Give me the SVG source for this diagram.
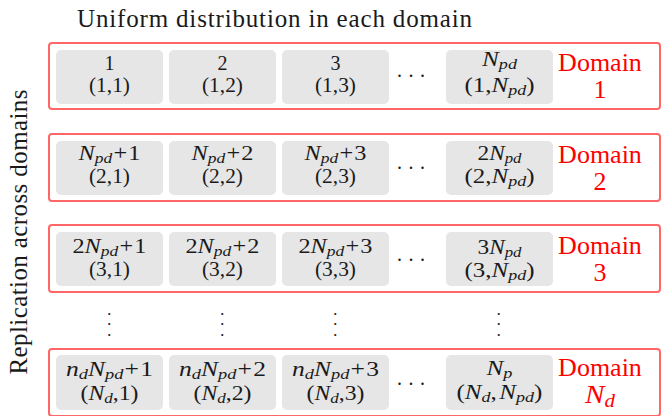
<svg xmlns="http://www.w3.org/2000/svg" width="668" height="416" viewBox="0 0 668 416">
  <style>
    text { font-family: "Liberation Serif", "Times New Roman", serif; }
    .box { fill: #ffffff; stroke: #ff6666; stroke-width: 2; }
    .cell { fill: #e6e6e6; }
    .t { font-size: 20px; fill: #1a1a1a; text-anchor: middle; }
    .m { font-style: italic; }
    .s { font-size: 0.72em; font-style: italic; }
    .dom { font-size: 26px; fill: #ff0000; text-anchor: middle; }
    .hdr { font-size: 25px; fill: #1a1a1a; }
    .dot { font-size: 20px; fill: #1a1a1a; }
    .vd { font-size: 8.5px; fill: #1a1a1a; text-anchor: middle; }
  </style>

  <!-- headings -->
  <text id="title" class="hdr" x="77" y="27" textLength="395">Uniform distribution in each domain</text>
  <text id="side-label" class="hdr" text-anchor="middle" transform="translate(27,232) rotate(-90)" textLength="285">Replication across domains</text>

  <!-- domain 1 -->
  <g id="domain-1">
    <rect class="box" x="49" y="43" width="611" height="66" rx="3"/>
    <g id="p-1-1"><rect class="cell" x="56" y="50" width="107" height="54" rx="5"/>
      <text class="t" x="109.5" y="70">1</text>
      <text class="t" x="109.5" y="92" textLength="41" lengthAdjust="spacingAndGlyphs">(1,1)</text></g>
    <g id="p-1-2"><rect class="cell" x="169" y="50" width="107" height="54" rx="5"/>
      <text class="t" x="222.5" y="70">2</text>
      <text class="t" x="222.5" y="92" textLength="41" lengthAdjust="spacingAndGlyphs">(1,2)</text></g>
    <g id="p-1-3"><rect class="cell" x="282" y="50" width="107" height="54" rx="5"/>
      <text class="t" x="335.5" y="70">3</text>
      <text class="t" x="335.5" y="92" textLength="41" lengthAdjust="spacingAndGlyphs">(1,3)</text></g>
    <text class="dot" x="397 408.5 420" y="77">...</text>
    <g id="p-1-n"><rect class="cell" x="446" y="50" width="107" height="54" rx="5"/>
      <text class="t" x="499.5" y="65.5" textLength="35" lengthAdjust="spacingAndGlyphs"><tspan class="m">N</tspan><tspan class="s" dy="3">pd</tspan></text>
      <text class="t" x="499.5" y="92" textLength="70" lengthAdjust="spacingAndGlyphs">(1,<tspan class="m">N</tspan><tspan class="s" dy="3">pd</tspan><tspan dy="-3">)</tspan></text></g>
    <text class="dom" x="600" y="71">Domain</text>
    <text class="dom" x="600" y="98">1</text>
  </g>

  <!-- domain 2 -->
  <g id="domain-2">
    <rect class="box" x="49" y="134" width="611" height="67" rx="3"/>
    <g id="p-2-1"><rect class="cell" x="56" y="141" width="107" height="54" rx="5"/>
      <text class="t" x="109.5" y="160" textLength="62" lengthAdjust="spacingAndGlyphs"><tspan class="m">N</tspan><tspan class="s" dy="3">pd</tspan><tspan dy="-3" dx="1">+</tspan><tspan dx="1">1</tspan></text>
      <text class="t" x="109.5" y="183" textLength="41" lengthAdjust="spacingAndGlyphs">(2,1)</text></g>
    <g id="p-2-2"><rect class="cell" x="169" y="141" width="107" height="54" rx="5"/>
      <text class="t" x="222.5" y="160" textLength="62" lengthAdjust="spacingAndGlyphs"><tspan class="m">N</tspan><tspan class="s" dy="3">pd</tspan><tspan dy="-3" dx="1">+</tspan><tspan dx="1">2</tspan></text>
      <text class="t" x="222.5" y="183" textLength="41" lengthAdjust="spacingAndGlyphs">(2,2)</text></g>
    <g id="p-2-3"><rect class="cell" x="282" y="141" width="107" height="54" rx="5"/>
      <text class="t" x="335.5" y="160" textLength="62" lengthAdjust="spacingAndGlyphs"><tspan class="m">N</tspan><tspan class="s" dy="3">pd</tspan><tspan dy="-3" dx="1">+</tspan><tspan dx="1">3</tspan></text>
      <text class="t" x="335.5" y="183" textLength="41" lengthAdjust="spacingAndGlyphs">(2,3)</text></g>
    <text class="dot" x="397 408.5 420" y="169">...</text>
    <g id="p-2-n"><rect class="cell" x="446" y="141" width="107" height="54" rx="5"/>
      <text class="t" x="499.5" y="160" textLength="44" lengthAdjust="spacingAndGlyphs">2<tspan class="m">N</tspan><tspan class="s" dy="3">pd</tspan></text>
      <text class="t" x="499.5" y="183" textLength="70" lengthAdjust="spacingAndGlyphs">(2,<tspan class="m">N</tspan><tspan class="s" dy="3">pd</tspan><tspan dy="-3">)</tspan></text></g>
    <text class="dom" x="600" y="163">Domain</text>
    <text class="dom" x="600" y="190">2</text>
  </g>

  <!-- domain 3 -->
  <g id="domain-3">
    <rect class="box" x="49" y="225" width="611" height="67" rx="3"/>
    <g id="p-3-1"><rect class="cell" x="56" y="232" width="107" height="54" rx="5"/>
      <text class="t" x="109.5" y="253" textLength="74" lengthAdjust="spacingAndGlyphs">2<tspan class="m">N</tspan><tspan class="s" dy="3">pd</tspan><tspan dy="-3" dx="1">+</tspan><tspan dx="1">1</tspan></text>
      <text class="t" x="109.5" y="276" textLength="41" lengthAdjust="spacingAndGlyphs">(3,1)</text></g>
    <g id="p-3-2"><rect class="cell" x="169" y="232" width="107" height="54" rx="5"/>
      <text class="t" x="222.5" y="253" textLength="74" lengthAdjust="spacingAndGlyphs">2<tspan class="m">N</tspan><tspan class="s" dy="3">pd</tspan><tspan dy="-3" dx="1">+</tspan><tspan dx="1">2</tspan></text>
      <text class="t" x="222.5" y="276" textLength="41" lengthAdjust="spacingAndGlyphs">(3,2)</text></g>
    <g id="p-3-3"><rect class="cell" x="282" y="232" width="107" height="54" rx="5"/>
      <text class="t" x="335.5" y="253" textLength="74" lengthAdjust="spacingAndGlyphs">2<tspan class="m">N</tspan><tspan class="s" dy="3">pd</tspan><tspan dy="-3" dx="1">+</tspan><tspan dx="1">3</tspan></text>
      <text class="t" x="335.5" y="276" textLength="41" lengthAdjust="spacingAndGlyphs">(3,3)</text></g>
    <text class="dot" x="397 408.5 420" y="261">...</text>
    <g id="p-3-n"><rect class="cell" x="446" y="232" width="107" height="54" rx="5"/>
      <text class="t" x="499.5" y="254" textLength="44" lengthAdjust="spacingAndGlyphs">3<tspan class="m">N</tspan><tspan class="s" dy="3">pd</tspan></text>
      <text class="t" x="499.5" y="277" textLength="70" lengthAdjust="spacingAndGlyphs">(3,<tspan class="m">N</tspan><tspan class="s" dy="3">pd</tspan><tspan dy="-3">)</tspan></text></g>
    <text class="dom" x="600" y="254">Domain</text>
    <text class="dom" x="600" y="281">3</text>
  </g>

  <!-- vertical ellipses between domain 3 and the last domain -->
  <g id="vdots">
    <text class="vd" x="109.3" y="316.8">•</text><text class="vd" x="109.3" y="327.2">•</text><text class="vd" x="109.3" y="337.6">•</text>
    <text class="vd" x="222.3" y="316.8">•</text><text class="vd" x="222.3" y="327.2">•</text><text class="vd" x="222.3" y="337.6">•</text>
    <text class="vd" x="335.3" y="316.8">•</text><text class="vd" x="335.3" y="327.2">•</text><text class="vd" x="335.3" y="337.6">•</text>
    <text class="vd" x="498.7" y="316.8">•</text><text class="vd" x="498.7" y="327.2">•</text><text class="vd" x="498.7" y="337.6">•</text>
  </g>

  <!-- domain N_d -->
  <g id="domain-nd">
    <rect class="box" x="49" y="349" width="611" height="67" rx="3"/>
    <g id="p-nd-1"><rect class="cell" x="56" y="355" width="107" height="55" rx="5"/>
      <text class="t" x="109.5" y="376" textLength="87" lengthAdjust="spacingAndGlyphs"><tspan class="m">n</tspan><tspan class="s" dy="3">d</tspan><tspan class="m" dy="-3">N</tspan><tspan class="s" dy="3">pd</tspan><tspan dy="-3" dx="1">+</tspan><tspan dx="1">1</tspan></text>
      <text class="t" x="109.5" y="400" textLength="58" lengthAdjust="spacingAndGlyphs">(<tspan class="m">N</tspan><tspan class="s" dy="3">d</tspan><tspan dy="-3">,1)</tspan></text></g>
    <g id="p-nd-2"><rect class="cell" x="169" y="355" width="107" height="55" rx="5"/>
      <text class="t" x="222.5" y="376" textLength="87" lengthAdjust="spacingAndGlyphs"><tspan class="m">n</tspan><tspan class="s" dy="3">d</tspan><tspan class="m" dy="-3">N</tspan><tspan class="s" dy="3">pd</tspan><tspan dy="-3" dx="1">+</tspan><tspan dx="1">2</tspan></text>
      <text class="t" x="222.5" y="400" textLength="58" lengthAdjust="spacingAndGlyphs">(<tspan class="m">N</tspan><tspan class="s" dy="3">d</tspan><tspan dy="-3">,2)</tspan></text></g>
    <g id="p-nd-3"><rect class="cell" x="282" y="355" width="107" height="55" rx="5"/>
      <text class="t" x="335.5" y="376" textLength="87" lengthAdjust="spacingAndGlyphs"><tspan class="m">n</tspan><tspan class="s" dy="3">d</tspan><tspan class="m" dy="-3">N</tspan><tspan class="s" dy="3">pd</tspan><tspan dy="-3" dx="1">+</tspan><tspan dx="1">3</tspan></text>
      <text class="t" x="335.5" y="400" textLength="58" lengthAdjust="spacingAndGlyphs">(<tspan class="m">N</tspan><tspan class="s" dy="3">d</tspan><tspan dy="-3">,3)</tspan></text></g>
    <text class="dot" x="397 408.5 420" y="385">...</text>
    <g id="p-nd-n"><rect class="cell" x="446" y="355" width="107" height="55" rx="5"/>
      <text class="t" x="499.5" y="375" textLength="26" lengthAdjust="spacingAndGlyphs"><tspan class="m">N</tspan><tspan class="s" dy="3">p</tspan></text>
      <text class="t" x="499.5" y="399" textLength="86" lengthAdjust="spacingAndGlyphs">(<tspan class="m">N</tspan><tspan class="s" dy="3">d</tspan><tspan dy="-3">,</tspan><tspan class="m" dx="2">N</tspan><tspan class="s" dy="3">pd</tspan><tspan dy="-3">)</tspan></text></g>
    <text class="dom" x="600" y="376">Domain</text>
    <text class="dom m" x="600" y="403" textLength="30" lengthAdjust="spacingAndGlyphs">N<tspan class="s" dy="4">d</tspan></text>
  </g>
</svg>
